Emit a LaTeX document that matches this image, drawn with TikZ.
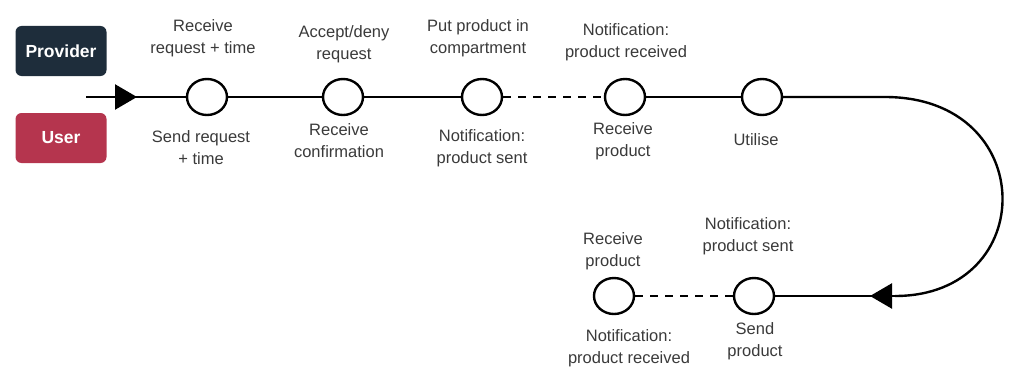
\documentclass[tikz,border=0pt]{standalone}
\usepackage{fontspec}
\setmainfont{Liberation Sans}
\usetikzlibrary{shapes.geometric,arrows.meta,decorations.markings}
\definecolor{providercol}{HTML}{1E2D3B}
\definecolor{usercol}{HTML}{B5354E}
\definecolor{txt}{HTML}{3A3A3A}
\begin{document}
\begin{tikzpicture}[x=1pt,y=-1pt,
  stage/.style={ellipse, draw=black, fill=white, line width=2.4pt, minimum width=40pt, minimum height=36pt, inner sep=0pt},
  flow/.style={line width=2.4pt},
  weak link/.style={line width=2.4pt, dash pattern=on 8pt off 7pt},
  lbl/.style={text=txt, font=\fontsize{16.5}{22}\selectfont, align=center, inner sep=0pt},
  role/.style={rounded corners=6pt, minimum width=91pt, minimum height=50pt, inner sep=0pt, text=white, font=\fontsize{17.5}{20}\selectfont\bfseries},
  midtip/.style={postaction={decorate}, decoration={markings, mark=at position #1 with {\arrow{Triangle[length=22pt,width=25pt]}}}}
]
\useasboundingbox (0,0) rectangle (1011,369);

% role badges
\node[role, fill=providercol] (provider) at (61,51) {Provider};
\node[role, fill=usercol] (user) at (61,138) {User};

% upper row of stages
\node[stage] (c1) at (207,97) {};
\node[stage] (c2) at (343,97) {};
\node[stage] (c3) at (482,97) {};
\node[stage] (c4) at (625,97) {};
\node[stage] (c5) at (762,97) {};

% lower row of stages
\node[stage] (c6) at (754,296) {};
\node[stage] (c7) at (614,296) {};

\coordinate (start) at (86,97);
\coordinate (turnA) at (885,97);
\coordinate (turnB) at (895,296);

% connectors
\draw[flow, midtip=51pt] (start) -- (c1.west);
\draw[flow] (c1) -- (c2);
\draw[flow] (c2) -- (c3);
\draw[weak link] (c3.east) -- (c4.west);
\draw[flow] (c4) -- (c5);
\draw[flow] (c5.east) -- (turnA) .. controls (1040,97) and (1040,296) .. (turnB);
\draw[flow, midtip=25pt] (turnB) -- (c6.east);
\draw[weak link] (c6.west) -- (c7.east);

% provider side labels
\node[lbl] (t1) at (203,38) {Receive\\request + time};
\node[lbl] (t2) at (344,44) {Accept/deny\\request};
\node[lbl] (t3) at (478,38) {Put product in\\compartment};
\node[lbl] (t4) at (626,42) {Notification:\\product received};
\node[lbl] (t6) at (748,236) {Notification:\\product sent};
\node[lbl] (b6) at (755,341) {Send\\product};

% user side labels
\node[lbl] (b1) at (201,148) {Send request\\+ time};
\node[lbl] (b2) at (339,141) {Receive\\confirmation};
\node[lbl] (b3) at (482,148) {Notification:\\product sent};
\node[lbl] (b4) at (623,141) {Receive\\product};
\node[lbl] (b5) at (756,140) {Utilise};
\node[lbl] (t7) at (613,251) {Receive\\product};
\node[lbl] (b7) at (629,348) {Notification:\\product received};
\end{tikzpicture}
\end{document}
